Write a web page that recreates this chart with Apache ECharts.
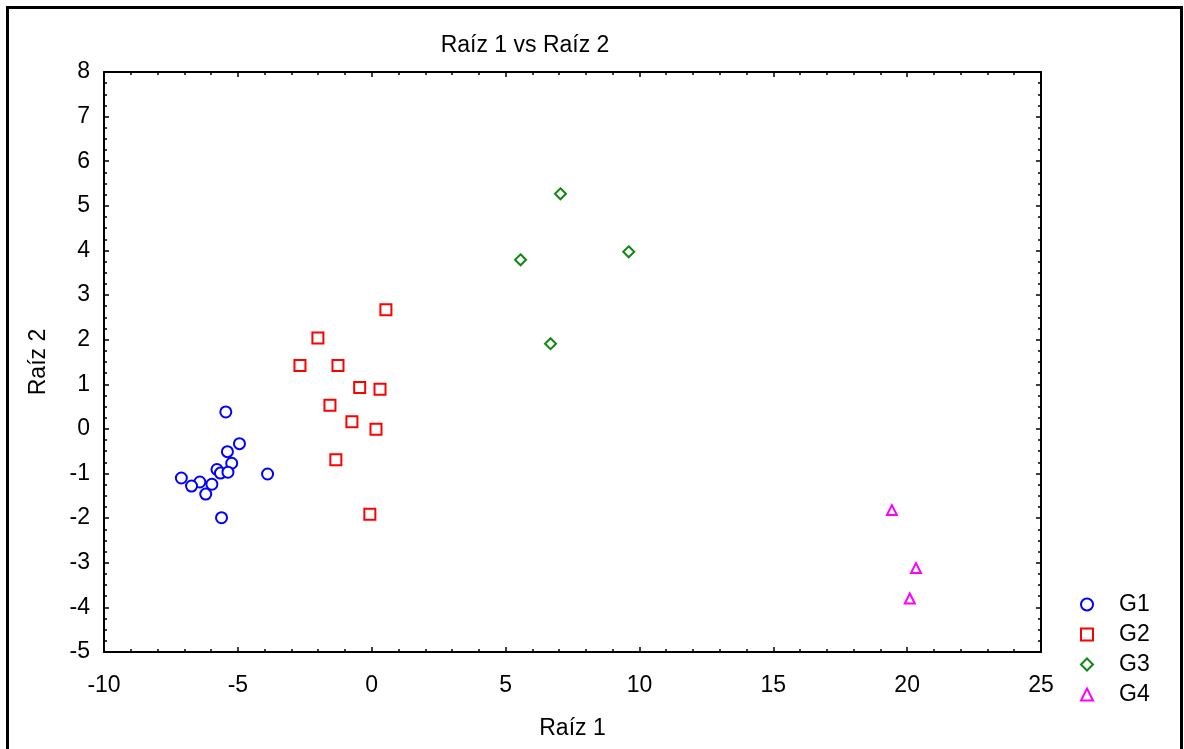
<!DOCTYPE html>
<html>
<head>
<meta charset="utf-8">
<script src="https://cdn.jsdelivr.net/npm/echarts@6/dist/echarts.min.js"></script>
<style>html,body{margin:0;padding:0;background:#fff;}#c{width:1184px;height:749px;}</style>
</head>
<body>
<div id="c"></div>
<script>
const seriesNames = ['G1', 'G2', 'G3', 'G4'];
const g1X = [-5.45, -4.94, -5.39, -5.23, -5.78, -5.65, -5.37, -3.89, -7.11, -6.42, -5.97, -6.73, -6.20, -5.61];
const g1Y = [0.38, -0.33, -0.51, -0.77, -0.91, -0.99, -0.97, -1.01, -1.10, -1.19, -1.24, -1.28, -1.46, -1.99];
const g2X = [0.53, -2.01, -2.68, -1.26, -0.45, 0.31, -1.56, -0.74, 0.16, -1.34, -0.07];
const g2Y = [2.67, 2.04, 1.42, 1.42, 0.93, 0.89, 0.53, 0.16, -0.01, -0.69, -1.91];
const g3X = [7.05, 9.60, 5.56, 6.68];
const g3Y = [5.27, 3.97, 3.79, 1.91];
const g4X = [19.43, 20.33, 20.10];
const g4Y = [-1.82, -3.12, -3.80];
const xTicks = { min: -10, max: 25, interval: 5 };
const yTicks = { min: -5, max: 8, interval: 1 };
const colors = ['#0000ff', '#ff0000', '#118811', '#ff00ff'];
const symbols = ['circle', 'rect', 'diamond', 'triangle'];
const sizes = [11, 11, 11, 10];

const xs = [g1X, g2X, g3X, g4X];
const ys = [g1Y, g2Y, g3Y, g4Y];
const font = 'Liberation Sans, Arial, sans-serif';

const chart = echarts.init(document.getElementById('c'), null, { renderer: 'canvas' });
const axisCommon = {
  axisLine: { show: true, onZero: false, lineStyle: { color: '#000', width: 2 } },
  axisTick: { show: true, inside: true, length: 5, lineStyle: { color: '#000', width: 1.5 } },
  minorTick: { show: true, length: 3, lineStyle: { color: '#000', width: 1.5 } },
  splitLine: { show: false }
};
const option = {
  backgroundColor: '#fff',
  animation: false,
  title: {
    text: 'Raíz 1 vs Raíz 2',
    left: 520, top: 29, textAlign: 'center',
    textStyle: { fontFamily: font, fontSize: 23, fontWeight: 'normal', color: '#000' }
  },
  grid: { left: 104, top: 72, right: 143, bottom: 97, containLabel: false },
  xAxis: [
    Object.assign({}, axisCommon, {
      type: 'value', position: 'bottom', min: xTicks.min, max: xTicks.max, interval: xTicks.interval,
      minorTick: Object.assign({}, axisCommon.minorTick, { splitNumber: 5 }),
      axisLabel: { color: '#000', fontFamily: font, fontSize: 23, margin: 22 },
      name: 'Raíz 1', nameLocation: 'middle', nameGap: 65,
      nameTextStyle: { color: '#000', fontFamily: font, fontSize: 23 }
    }),
    Object.assign({}, axisCommon, {
      type: 'value', position: 'top', min: xTicks.min, max: xTicks.max, interval: xTicks.interval,
      minorTick: Object.assign({}, axisCommon.minorTick, { splitNumber: 5 }),
      axisLabel: { show: false }
    })
  ],
  yAxis: [
    Object.assign({}, axisCommon, {
      type: 'value', position: 'left', min: yTicks.min, max: yTicks.max, interval: yTicks.interval,
      minorTick: Object.assign({}, axisCommon.minorTick, { splitNumber: 4 }),
      axisLabel: { color: '#000', fontFamily: font, fontSize: 23, margin: 14 },
      name: 'Raíz 2', nameLocation: 'middle', nameGap: 54, nameRotate: 90,
      nameTextStyle: { color: '#000', fontFamily: font, fontSize: 23 }
    }),
    Object.assign({}, axisCommon, {
      type: 'value', position: 'right', min: yTicks.min, max: yTicks.max, interval: yTicks.interval,
      minorTick: Object.assign({}, axisCommon.minorTick, { splitNumber: 4 }),
      axisLabel: { show: false }
    })
  ],
  legend: {
    orient: 'vertical', left: 1075, top: 588,
    itemWidth: 12, itemHeight: 12, itemGap: 7,
    textStyle: { color: '#000', fontFamily: font, fontSize: 23, lineHeight: 13, padding: [0, 0, 0, 21] },
    data: seriesNames
  },
  graphic: [{
    type: 'rect', silent: true, z: 100,
    shape: { x: 7.5, y: 7.5, width: 1174, height: 800 },
    style: { fill: 'none', stroke: '#000', lineWidth: 3 }
  }],
  series: seriesNames.map((n, i) => ({
    name: n, type: 'scatter', xAxisIndex: 0, yAxisIndex: 0,
    symbol: symbols[i], symbolSize: sizes[i],
    itemStyle: { color: '#fff', borderColor: colors[i], borderWidth: 2, opacity: 1 },
    data: xs[i].map((x, j) => [x, ys[i][j]])
  }))
};
chart.setOption(option);
</script>
</body>
</html>
